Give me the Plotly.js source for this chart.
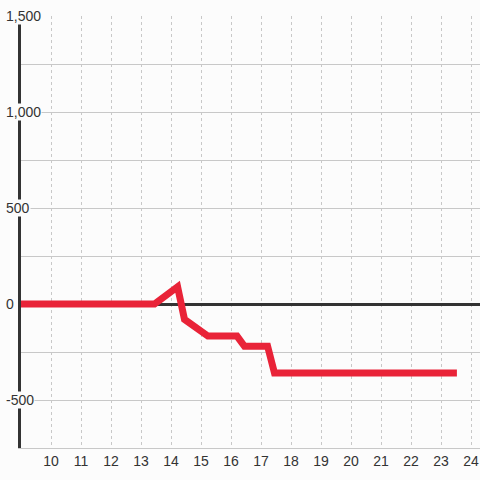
<!DOCTYPE html>
<html>
<head>
<meta charset="utf-8">
<script src="https://cdn.plot.ly/plotly-3.0.1.min.js"></script>
<style>
  html, body { margin: 0; padding: 0; background: #fcfcfc; }
  #chart { width: 480px; height: 480px; }
</style>
</head>
<body>
<div id="chart"></div>
<script>
// Data
const xValues = [9, 13.45, 14.22, 14.45, 15.23, 16.2, 16.45, 17.22, 17.45, 23.53];
const yValues = [0, 0, 90, -80, -167, -167, -220, -220, -360, -360];

// Axis ticks
const xTickVals = [10, 11, 12, 13, 14, 15, 16, 17, 18, 19, 20, 21, 22, 23, 24];
const yTickVals = [1500, 1000, 500, 0, -500];
const yTickText = ["1,500", "1,000", "500", "0", "-500"];

const bg = "#fcfcfc";
const labelFont = { family: "Liberation Sans, Arial, sans-serif", size: 14, color: "#333333" };

const trace = {
  x: xValues,
  y: yValues,
  type: "scatter",
  mode: "lines",
  line: { color: "#e92338", width: 7 },
  hoverinfo: "none"
};

const annotations = yTickVals.map((v, i) => ({
  xref: "paper", yref: "y",
  x: 0, y: v,
  xanchor: "left", yanchor: "middle",
  xshift: -16,
  text: yTickText[i],
  showarrow: false,
  font: labelFont,
  bgcolor: bg,
  borderpad: 0
}));

const layout = {
  width: 480, height: 480,
  margin: { l: 21, r: 0, t: 16, b: 32 },
  paper_bgcolor: bg,
  plot_bgcolor: bg,
  showlegend: false,
  xaxis: {
    range: [9, 24.3],
    tickvals: xTickVals,
    ticktext: xTickVals.map(String),
    showgrid: true,
    gridcolor: "#c8c8c8",
    griddash: "3px,3px",
    gridwidth: 1,
    zeroline: false,
    showline: true,
    linecolor: "#c8c8c8",
    linewidth: 1,
    ticks: "",
    tickfont: labelFont,
    fixedrange: true
  },
  yaxis: {
    range: [-750, 1500],
    dtick: 250,
    tick0: 0,
    showticklabels: false,
    showgrid: true,
    gridcolor: "#c8c8c8",
    gridwidth: 1,
    zeroline: true,
    zerolinecolor: "#333333",
    zerolinewidth: 3,
    showline: true,
    linecolor: "#333333",
    linewidth: 3,
    ticks: "",
    fixedrange: true
  },
  annotations: annotations
};

Plotly.newPlot("chart", [trace], layout, { displayModeBar: false, staticPlot: true });
</script>
</body>
</html>
